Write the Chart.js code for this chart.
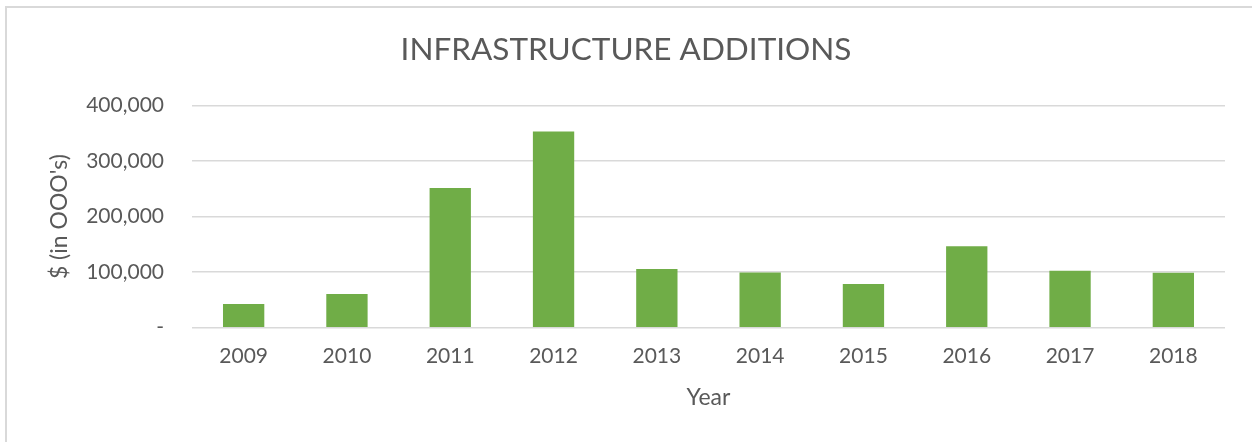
<!DOCTYPE html>
<html>
<head>
<meta charset="utf-8">
<script src="https://cdn.jsdelivr.net/npm/chart.js@4/dist/chart.umd.min.js"></script>
<style>
  html, body { margin: 0; padding: 0; background: #fff; }
  #marco { position: absolute; left: 5px; top: 6px; width: 1400px; height: 600px;
           border-left: 2px solid #d9d9d9; border-top: 2px solid #d9d9d9; }
  #caja { position: absolute; left: 0; top: 0; width: 1252px; height: 442px; }
</style>
</head>
<body>
<div id="marco"></div>
<div id="caja"><canvas id="grafica" width="1252" height="442"></canvas></div>
<script>
const anios = ['2009', '2010', '2011', '2012', '2013', '2014', '2015', '2016', '2017', '2018']
const adiciones = [42800, 60800, 251400, 353200, 105500, 99500, 78900, 146700, 102500, 98900]
const marcasY = [0, 100000, 200000, 300000, 400000]

const gris = '#595959'
const fuente = 'Lato, "Open Sans", sans-serif'

function formatoMiles(v) {
    if (v === 0) return '-'
    return v.toLocaleString('en-US')
}

const canvas = document.getElementById('grafica')
new Chart(canvas, {
    type: 'bar',
    data: {
        labels: anios,
        datasets: [{
            label: 'Infrastructure Additions',
            data: adiciones,
            backgroundColor: '#70ad47',
            borderWidth: 0,
            barPercentage: 0.4,
            categoryPercentage: 1
        }]
    },
    options: {
        responsive: false,
        animation: false,
        layout: { padding: 0 },
        plugins: {
            legend: { display: false },
            tooltip: { enabled: false },
            title: {
                display: true,
                text: 'INFRASTRUCTURE ADDITIONS',
                color: gris,
                font: { family: fuente, size: 31.5, weight: 'normal' },
                padding: { top: 31.4, bottom: 36.4 }
            }
        },
        scales: {
            x: {
                grid: { display: false, drawTicks: false },
                border: { display: false },
                ticks: { color: gris, font: { family: fuente, size: 21 }, padding: 15.5 },
                title: {
                    display: true, text: 'Year', color: gris,
                    font: { family: fuente, size: 23 },
                    padding: { top: 0, bottom: 30.5 }
                }
            },
            y: {
                min: 0,
                max: 400000,
                afterFit: eje => { eje.width = 192 },
                afterBuildTicks: eje => { eje.ticks = marcasY.map(v => ({ value: v })) },
                grid: { color: '#d9d9d9', lineWidth: 1.5, drawTicks: false },
                border: { display: false },
                ticks: {
                    color: gris, font: { family: fuente, size: 21 }, padding: 28,
                    callback: v => formatoMiles(v)
                },
                title: {
                    display: true, text: "$ (in OOO's)", color: gris,
                    font: { family: fuente, size: 23 },
                    padding: { top: 46.2, bottom: 0 }
                }
            },
            margenDer: {
                position: 'right',
                afterFit: eje => { eje.width = 27 },
                grid: { display: false, drawTicks: false },
                border: { display: false },
                ticks: { display: false }
            }
        }
    }
})
</script>
</body>
</html>
